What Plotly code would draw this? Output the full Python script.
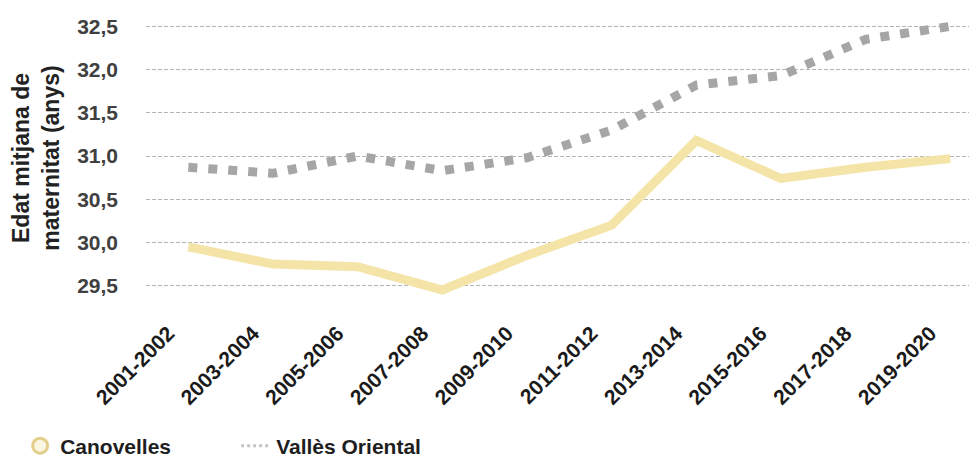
import plotly.graph_objects as go

periods = ["2001-2002", "2003-2004", "2005-2006", "2007-2008", "2009-2010",
           "2011-2012", "2013-2014", "2015-2016", "2017-2018", "2019-2020"]
canovelles = [29.95, 29.75, 29.72, 29.45, 29.85, 30.2, 31.18, 30.74, 30.87, 30.97]
valles = [30.87, 30.8, 31.0, 30.83, 30.98, 31.3, 31.82, 31.93, 32.35, 32.5]
ytick_vals = [29.5, 30.0, 30.5, 31.0, 31.5, 32.0, 32.5]
ytick_text = ["29,5", "30,0", "30,5", "31,0", "31,5", "32,0", "32,5"]

FONT = "Liberation Sans, Arial, sans-serif"

fig = go.Figure()
fig.add_trace(go.Scatter(
    x=periods, y=valles, mode="lines", name="Vallès Oriental",
    line=dict(color="#a6a6a6", width=9, dash="9px,11px"), showlegend=False))
fig.add_trace(go.Scatter(
    x=periods, y=canovelles, mode="lines", name="Canovelles",
    line=dict(color="#f5e4a8", width=9), showlegend=False))
# legend entries
fig.add_trace(go.Scatter(
    x=[None], y=[None], mode="markers", name="Canovelles",
    marker=dict(symbol="circle", size=15, color="#fbf6e2",
                line=dict(color="#e3cf8a", width=3))))
fig.add_trace(go.Scatter(
    x=[None], y=[None], mode="lines", name="Vallès Oriental",
    line=dict(color="#c4c4c4", width=3, dash="dot")))

fig.update_layout(
    width=977, height=461,
    margin=dict(l=138, r=0, t=0, b=161),
    paper_bgcolor="white", plot_bgcolor="white",
    font=dict(family=FONT, color="#404040"),
    legend=dict(orientation="h", x=-0.15, xanchor="left", y=-0.46, yanchor="middle",
                font=dict(size=21, color="#1e1e1e", family=FONT, weight="bold"),
                entrywidth=171, entrywidthmode="pixels", tracegroupgap=0),
)
fig.update_xaxes(
    type="category", range=[-0.5, 9.41], showgrid=False, showline=False,
    ticks="", tickangle=-45, ticklabelstandoff=8, ticklabelshift=-20,
    tickfont=dict(size=21, color="#1a1a1a", family=FONT, weight="bold"),
)
fig.update_yaxes(
    range=[29.242, 32.712], tickvals=ytick_vals, ticktext=ytick_text,
    showgrid=True, gridcolor="#b4b4b4", gridwidth=1, griddash="4px,2px",
    zeroline=False, showline=False, ticks="", ticklabelstandoff=27,
    tickfont=dict(size=21, color="#404040", family=FONT, weight="bold"),
    title=dict(text="Edat mitjana de<br>maternitat (anys)", standoff=16,
               font=dict(size=23, color="#222222", family=FONT, weight="bold")),
)

fig.write_html("out.html")
